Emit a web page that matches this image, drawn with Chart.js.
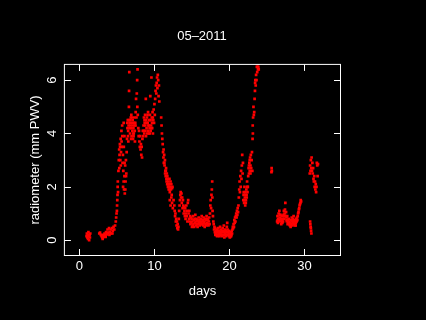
<!DOCTYPE html>
<html>
<head>
<meta charset="utf-8">
<script src="https://cdn.jsdelivr.net/npm/chart.js@4"></script>
<style>
  html, body { margin: 0; padding: 0; background: #000; }
  #wrap { width: 426px; height: 320px; }
</style>
</head>
<body>
<div id="wrap"><canvas id="pwv_chart"></canvas></div>
<script>
// ------- Data -------
const xTicks = [0, 10, 20, 30];
const yTicks = [0, 2, 4, 6];

const days = [
  // day 1
  0.95, 1.0, 1.05, 1.1, 1.15, 1.2, 1.25, 1.3, 1.35, 1.4, 1.45,
  // days 2.6 - 5
  2.65, 2.75, 2.85, 2.95, 3.05, 3.1, 3.15, 3.25, 3.35, 3.45, 3.5, 3.55, 3.65, 3.75, 3.85, 3.95, 4.0,
  4.05, 4.15, 4.25, 4.35, 4.4, 4.45, 4.55, 4.65, 4.75, 4.85, 4.9, 4.95,
  // steep rise
  5.0, 5.02, 5.05, 5.08, 5.1, 5.12, 5.15, 5.2, 5.25, 5.3, 5.35, 5.4, 5.45, 5.5, 5.55, 5.6, 5.65, 5.7, 5.75, 5.8,
  5.85, 5.9, 5.9, 5.95, 6.0, 6.0, 6.05, 6.1, 6.15, 6.2, 6.25, 6.3,
  // first hump
  6.35, 6.4, 6.45, 6.5, 6.55, 6.6, 6.62, 6.65, 6.7, 6.75, 6.8, 6.85, 6.9, 6.95, 7.0, 7.05, 7.1, 7.15, 7.2,
  7.25, 7.3, 7.35, 7.4, 7.45, 7.5, 7.55, 7.6, 7.65, 7.7, 7.72, 7.75, 7.78,
  7.85, 7.9, 7.95, 8.0, 8.05, 8.1, 8.15, 8.2, 8.25, 8.3, 8.35, 8.4, 8.45, 8.5,
  8.55, 8.6, 8.65, 8.7, 8.75, 8.8, 8.85, 8.9, 8.95, 9.0, 9.05, 9.1, 9.15, 9.2, 9.25, 9.3, 9.35, 9.4, 9.45,
  9.5, 9.55, 9.6, 9.65, 9.7, 9.75, 9.8,
  9.85, 9.9, 9.95, 10.0, 10.05, 10.1, 10.15, 10.2, 10.25, 10.3, 10.35, 10.4, 10.45, 10.5, 10.55, 10.6, 10.65,
  10.9, 10.95, 11.0, 11.05, 11.1,
  // decline
  11.15, 11.2, 11.25, 11.3, 11.35, 11.4, 11.45, 11.5, 11.55, 11.6, 11.65, 11.7, 11.75, 11.8, 11.85, 11.9,
  11.95, 12.0, 12.05, 12.1, 12.15, 12.2, 12.25, 12.3, 12.35, 12.4,
  12.05, 12.15, 12.25, 12.35, 12.45, 12.55, 12.65,
  12.7, 12.75, 12.8, 12.85, 12.9, 12.95, 13.0, 13.05, 13.1, 13.15, 13.2, 13.25, 13.3, 13.35,
  13.4, 13.45, 13.5, 13.55, 13.6, 13.65, 13.7, 13.75, 13.8, 13.85, 13.9, 13.95, 14.0,
  14.05, 14.1, 14.15, 14.2, 14.25, 14.3, 14.35, 14.4, 14.45, 14.5, 14.55, 14.6, 14.65, 14.7, 14.75, 14.8,
  14.85, 14.9, 14.95, 15.0,
  // low plateau
  15.05, 15.1, 15.15, 15.2, 15.25, 15.3, 15.35, 15.4, 15.45, 15.5, 15.55, 15.6, 15.65, 15.7, 15.75, 15.8,
  15.85, 15.9, 15.95, 16.0, 16.05, 16.1, 16.15, 16.2, 16.25, 16.3, 16.35, 16.4, 16.45, 16.5, 16.55, 16.6,
  16.65, 16.7, 16.75, 16.8, 16.85, 16.9, 16.95, 17.0, 17.05, 17.1, 17.15, 17.2, 17.25, 17.3, 17.35,
  17.4, 17.45, 17.5, 17.55, 17.6, 17.65, 17.7, 17.72, 17.75, 17.8, 17.85, 17.9,
  17.95, 18.0, 18.05, 18.1, 18.15, 18.2, 18.25, 18.3, 18.35, 18.4, 18.45, 18.5, 18.55, 18.6, 18.65, 18.7,
  18.75, 18.8, 18.85, 18.9, 18.95, 19.0, 19.05, 19.1, 19.15, 19.2, 19.25, 19.3, 19.35, 19.4, 19.45, 19.5,
  19.55, 19.6, 19.65, 19.7, 19.75, 19.8, 19.85, 19.9, 19.95, 20.0, 20.05, 20.1, 20.15, 20.2, 20.25, 20.3,
  20.35, 20.4, 20.45,
  // second rise
  20.5, 20.55, 20.6, 20.65, 20.7, 20.75, 20.8, 20.85, 20.9, 20.95, 21.0, 21.05, 21.1, 21.15, 21.2,
  21.25, 21.3, 21.35, 21.4, 21.45, 21.5, 21.55, 21.6, 21.65, 21.7, 21.75, 21.8,
  21.85, 21.9, 21.95, 22.0, 22.05, 22.1, 22.15, 22.2, 22.25, 22.3, 22.35, 22.4, 22.45,
  22.5, 22.55, 22.6, 22.65, 22.7, 22.75, 22.8, 22.85, 22.9, 22.95, 23.0, 23.05,
  23.08, 23.1, 23.12, 23.15, 23.2, 23.25, 23.3, 23.35, 23.4, 23.42, 23.45, 23.5, 23.55, 23.6, 23.65, 23.7,
  23.75, 23.8, 23.85, 23.9,
  25.6, 25.62, 25.65,
  // last week
  26.35, 26.4, 26.45, 26.5, 26.55, 26.6, 26.65, 26.7, 26.75, 26.8, 26.85, 26.9, 26.95, 27.0, 27.05, 27.1,
  27.15, 27.2, 27.25, 27.3, 27.35, 27.4, 27.45, 27.5, 27.55, 27.6, 27.65, 27.7, 27.75, 27.8, 27.85, 27.9,
  27.95, 28.0, 28.05,
  28.1, 28.15, 28.2, 28.25, 28.3, 28.35, 28.4, 28.45, 28.5, 28.55, 28.6, 28.65, 28.7, 28.75, 28.8, 28.85,
  28.9, 28.95, 29.0, 29.05, 29.1, 29.15,
  29.2, 29.25, 29.3, 29.35, 29.4, 29.45, 29.5, 29.55,
  30.75, 30.78, 30.82, 30.85, 30.88, 30.92,
  30.7, 30.75, 30.8, 30.85, 30.9, 30.95, 31.0, 31.05, 31.1, 31.15, 31.2,
  31.25, 31.3, 31.35, 31.4, 31.45, 31.5, 31.55, 31.6, 31.65, 31.7, 31.75, 31.8,
  // extra samples in the dense parts
  6.38, 6.48, 6.58, 6.68, 6.78, 6.88, 6.98, 7.08, 7.18, 7.28, 7.38, 7.48, 6.52, 6.92, 7.22,
  8.58, 8.68, 8.78, 8.88, 8.98, 9.08, 9.18, 9.28, 9.38, 9.48, 9.58, 9.68, 9.78,
  5.32, 5.42, 5.52, 5.62, 5.72, 5.82, 5.92, 6.02, 6.12, 6.22,
  11.22, 11.32, 11.42, 11.52, 11.62, 11.72, 11.82, 11.92, 12.02,
  21.88, 21.98, 22.08, 22.18, 22.28, 22.38, 22.6, 22.7, 22.8,
  18.12, 18.42, 18.72, 19.02, 19.32, 19.62, 19.92, 20.22,
  26.42, 26.72, 27.02, 27.32, 27.62, 28.22, 28.52, 28.82
];

const pwv = [
  0.15, 0.25, 0.1, 0.2, 0.05, 0.3, 0.15, 0.0, 0.2, 0.1, 0.25,
  0.25, 0.28, 0.2, 0.15, 0.1, 0.05, 0.2, 0.12, 0.25, 0.18, 0.12, 0.3, 0.22, 0.4, 0.28, 0.45, 0.2,
  0.3, 0.4, 0.25, 0.45, 0.25, 0.35, 0.5, 0.4, 0.55, 0.7, 0.85, 1.0,
  1.1, 1.3, 1.5, 1.7, 2.0, 2.2, 1.8, 2.6, 3.0, 3.4, 3.2, 3.6, 3.0, 3.8, 3.3, 4.1, 3.5, 4.3, 2.9, 3.2,
  2.6, 2.2, 4.4, 1.9, 2.4, 3.9, 1.75, 2.8, 2.2, 3.0, 2.5, 3.3,
  3.8, 4.2, 4.5, 4.1, 4.3, 5.0, 5.6, 6.3, 4.4, 4.0, 4.3, 4.6, 4.2, 3.9, 4.4, 4.1, 4.5, 3.8, 4.2,
  4.0, 4.6, 4.3, 3.7, 4.4, 4.8, 5.3, 4.6, 5.5, 6.0, 5.0, 6.4, 4.7,
  4.2, 3.9, 4.1, 3.7, 3.5, 3.9, 3.4, 3.6, 3.2, 3.5, 3.1, 3.8, 4.1, 3.9,
  4.3, 4.6, 4.0, 4.4, 4.7, 4.1, 5.3, 4.5, 4.2, 4.6, 4.0, 4.4, 4.8, 4.3, 4.0, 4.5, 4.2, 4.7, 5.4,
  4.1, 4.3, 6.1, 4.6, 4.2, 4.8, 4.0,
  4.5, 4.9, 4.4, 5.1, 4.7, 5.3, 5.6, 5.8, 5.5, 5.9, 6.1, 5.7, 6.2, 6.0, 5.4, 5.8, 5.2,
  4.6, 4.3, 4.0, 3.8, 3.6,
  3.3, 3.1, 2.9, 3.2, 2.8, 3.0, 2.6, 2.4, 2.7, 2.3, 2.5, 2.1, 2.3, 2.0, 2.2, 1.9,
  2.1, 2.3, 1.8, 2.0, 2.2, 1.9, 2.1, 1.7, 1.95, 2.0,
  1.5, 1.3, 1.6, 1.4, 1.2, 1.5, 1.3,
  1.1, 0.9, 1.0, 0.7, 0.8, 0.55, 0.7, 0.45, 0.6, 0.4, 0.5, 0.8, 1.1, 1.3,
  1.5, 1.7, 1.8, 1.6, 1.75, 1.4, 1.6, 1.2, 1.5, 1.3, 1.0, 1.25, 1.1,
  0.9, 1.2, 0.8, 1.0, 1.3, 0.9, 1.1, 0.7, 1.4, 1.5, 1.0, 0.8, 1.1, 0.7, 0.9, 0.6,
  0.85, 0.65, 0.8, 0.5,
  0.7, 0.55, 0.9, 0.6, 0.75, 0.5, 0.8, 0.65, 0.95, 0.7, 0.55, 0.8, 0.6, 0.75, 0.5, 0.7,
  0.6, 0.85, 0.65, 0.75, 0.55, 0.7, 0.6, 0.8, 0.65, 0.9, 0.7, 0.6, 0.75, 0.55, 0.85, 0.65,
  0.7, 0.5, 0.8, 0.6, 0.75, 0.55, 0.9, 0.65, 0.8, 0.6, 0.75, 0.55, 0.7, 0.85, 0.6,
  1.0, 1.3, 1.5, 1.2, 1.7, 1.9, 2.2, 1.6, 1.1, 0.9, 0.7, 0.6,
  0.4, 0.5, 0.3, 0.45, 0.25, 0.35, 0.2, 0.4, 0.15, 0.3, 0.2, 0.45, 0.25, 0.35, 0.15, 0.3,
  0.5, 0.25, 0.4, 0.2, 0.35, 0.15, 0.3, 0.45, 0.2, 0.35, 0.55, 0.3, 0.2, 0.4, 0.25, 0.35,
  0.15, 0.3, 0.5, 0.65, 0.4, 0.3, 0.2, 0.35, 0.15, 0.25, 0.1, 0.2, 0.15, 0.3, 0.2, 0.35,
  0.25, 0.4, 0.5,
  0.45, 0.6, 0.5, 0.75, 0.65, 0.85, 0.7, 0.9, 1.0, 0.85, 1.1, 0.95, 1.2, 1.05, 1.3,
  1.6, 1.9, 2.2, 1.8, 2.4, 2.0, 2.6, 2.3, 2.8, 3.2, 2.5, 2.9,
  1.5, 1.8, 1.4, 2.0, 1.6, 1.3, 1.7, 1.5, 1.9, 1.6, 2.2, 1.8, 2.0,
  2.4, 2.7, 2.5, 2.9, 2.6, 3.1, 2.8, 3.2, 2.7, 3.0, 3.3, 2.6,
  3.8, 4.3, 4.0, 4.6, 5.0, 4.7, 4.8, 5.3, 5.6, 5.9, 6.0, 5.8, 6.2, 6.0, 6.5, 6.3,
  6.6, 6.4, 6.5, 6.4,
  2.55, 2.7, 2.6,
  0.7, 0.9, 0.65, 0.8, 1.0, 0.75, 1.1, 0.85, 0.7, 0.95, 0.8, 0.6, 0.75, 0.9, 0.65, 0.8,
  0.7, 0.95, 1.1, 0.8, 1.0, 1.15, 1.4, 0.9, 1.05, 0.85, 0.7, 0.9, 0.6, 0.75, 0.65, 0.8,
  0.6, 0.7, 0.55,
  0.65, 0.5, 0.75, 0.6, 0.85, 0.7, 0.55, 0.8, 0.65, 0.9, 0.7, 0.6, 0.75, 0.55, 0.7, 0.65,
  0.8, 0.7, 0.85, 0.75, 0.9, 1.0,
  1.05, 1.15, 1.2, 1.3, 1.35, 1.4, 1.5, 1.45,
  0.7, 0.6, 0.5, 0.45, 0.35, 0.25,
  2.5, 2.8, 2.6, 3.0, 2.7, 3.1, 2.6, 2.9, 2.5, 2.7, 2.3,
  2.2, 2.4, 2.0, 2.2, 1.9, 2.1, 1.8, 2.0, 2.9, 2.8, 2.4, 2.85,
  // extra samples in the dense parts
  4.4, 3.9, 4.5, 4.2, 4.5, 3.8, 4.6, 4.3, 4.0, 4.4, 4.1, 4.3, 3.7, 4.7, 3.9,
  4.1, 4.5, 4.3, 3.9, 4.4, 4.7, 4.1, 4.3, 4.0, 4.5, 4.2, 4.4, 4.6,
  2.7, 3.5, 2.8, 3.7, 3.9, 2.0, 3.5, 2.9, 1.9, 2.4,
  3.4, 2.9, 2.5, 2.6, 2.2, 2.4, 2.1, 2.0, 1.9,
  1.7, 1.5, 1.8, 1.4, 1.7, 2.0, 2.8, 3.0, 2.5,
  0.2, 0.35, 0.2, 0.3, 0.1, 0.2, 0.25, 0.15,
  0.75, 0.95, 0.7, 0.9, 0.75, 0.6, 0.75, 0.55
];

// ------- Style -------
const FONT = "'Liberation Sans', Arial, sans-serif";
Chart.defaults.font.family = FONT;
Chart.defaults.font.size = 13;
Chart.defaults.color = "#fff";

// box round the plot + inward tick marks (R style)
const boxPlugin = {
  id: "box",
  afterDraw(chart) {
    let { ctx, chartArea: a, scales } = chart;
    let tl = 6.5;
    ctx.save();
    ctx.strokeStyle = "#fff";
    ctx.lineWidth = 1;
    ctx.strokeRect(a.left, a.top, a.right - a.left, a.bottom - a.top);
    ctx.beginPath();
    scales.x.ticks.forEach((t) => {
      let px = Math.round(scales.x.getPixelForValue(t.value)) + 0.5;
      ctx.moveTo(px, a.bottom); ctx.lineTo(px, a.bottom - tl);
      ctx.moveTo(px, a.top); ctx.lineTo(px, a.top + tl);
    });
    scales.y.ticks.forEach((t) => {
      let py = Math.round(scales.y.getPixelForValue(t.value)) + 0.5;
      ctx.moveTo(a.left, py); ctx.lineTo(a.left + tl, py);
      ctx.moveTo(a.right, py); ctx.lineTo(a.right - tl, py);
    });
    ctx.stroke();
    ctx.restore();
  },
};

new Chart("pwv_chart", {
  type: "scatter",
  data: {
    datasets: [
      {
        data: days.map((d, i) => ({ x: d, y: pwv[i] })),
        backgroundColor: "#ff0000",
        borderWidth: 0,
        pointStyle: "rect",
        pointRadius: 1.9,
        pointHoverRadius: 1.9,
      },
    ],
  },
  options: {
    responsive: true,
    maintainAspectRatio: false,
    animation: false,
    events: [],
    // right margin split so the title centres over the plot like in R
    layout: { padding: { right: 22 } },
    plugins: {
      legend: { display: false },
      tooltip: { enabled: false },
      title: {
        display: true,
        text: "05–2011",
        color: "#fff",
        font: { size: 13, weight: "normal" },
        padding: { top: 28.7, bottom: 20.1 },
      },
    },
    scales: {
      x: {
        type: "linear",
        min: -2.0,
        max: 34.8,
        afterBuildTicks: (s) => { s.ticks = xTicks.map((v) => ({ value: v })); },
        afterFit: (s) => { s.height = 64.5; },
        grid: { display: false, drawTicks: false },
        border: { display: false },
        ticks: { color: "#fff", padding: 3 },
        title: { display: true, text: "days", color: "#fff", padding: { top: 0, bottom: 21.2 } },
      },
      y: {
        type: "linear",
        min: -0.575,
        max: 6.59,
        afterBuildTicks: (s) => { s.ticks = yTicks.map((v) => ({ value: v })); },
        afterFit: (s) => { s.width = 64.4; },
        grid: { display: false, drawTicks: false },
        border: { display: false },
        ticks: { color: "#fff", padding: 8.8, minRotation: 90, maxRotation: 90, crossAlign: "center" },
        title: { display: true, text: "radiometer (mm PWV)", color: "#fff", padding: { top: 27.7, bottom: 0 } },
      },
      // empty right margin
      yRight: {
        type: "linear",
        position: "right",
        display: true,
        min: 0,
        max: 1,
        afterFit: (s) => { s.width = 63.5; },
        grid: { display: false, drawTicks: false },
        border: { display: false },
        ticks: { display: false },
      },
    },
  },
  plugins: [boxPlugin],
});
</script>
</body>
</html>
